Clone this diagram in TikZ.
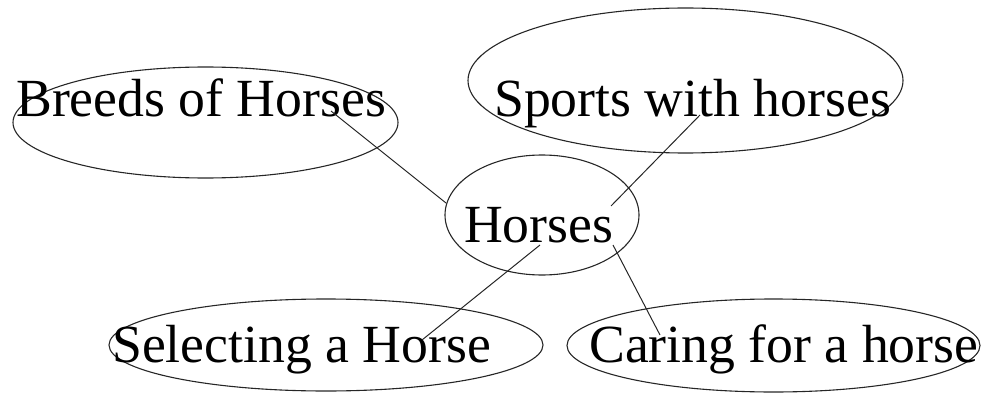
\documentclass[tikz,border=0pt]{standalone}
\usepackage{fontspec}
\setmainfont{Liberation Serif}
\usetikzlibrary{shapes.geometric}
\begin{document}
\begin{tikzpicture}[x=1pt,y=-1pt,
  oval/.style={draw=black!85, line width=1.1pt, ellipse, inner sep=0pt},
  lbl/.style={anchor=base west, inner sep=0pt, font=\fontsize{53.7}{60}\selectfont},
  link/.style={draw=black!85, line width=1pt}]
\useasboundingbox (0,0) rectangle (985,393);
% ellipses
\node[oval, minimum width=385pt, minimum height=111pt] (breedsE) at (205.5,122.5) {};
\node[oval, minimum width=435pt, minimum height=145pt] (sportsE) at (685.5,80.5) {};
\node[oval, minimum width=194pt, minimum height=120pt] (horsesE) at (542,215) {};
\node[oval, minimum width=434pt, minimum height=92pt] (selectE) at (326,345) {};
\node[oval, minimum width=413pt, minimum height=93pt] (caringE) at (773.5,345.5) {};
% labels
\node[lbl] (breeds) at (16,117) {Breeds of Horses};
\node[lbl] (sports) at (494,117) {Sports with horses};
\node[lbl] (horses) at (464,242) {Horses};
\node[lbl] (select) at (112,362) {Selecting a Horse};
\node[lbl] (caring) at (589,362) {Caring for a horse};
% connector ends
\coordinate (b1) at (331,111);
\coordinate (h1) at (446,203);
\coordinate (s1) at (700,115);
\coordinate (h2) at (611,206);
\coordinate (h3) at (540,245);
\coordinate (l1) at (422,340);
\coordinate (h4) at (613,245);
\coordinate (c1) at (660,335);
% connectors
\draw[link] (b1) -- (h1);
\draw[link] (s1) -- (h2);
\draw[link] (h3) -- (l1);
\draw[link] (h4) -- (c1);
\end{tikzpicture}
\end{document}
